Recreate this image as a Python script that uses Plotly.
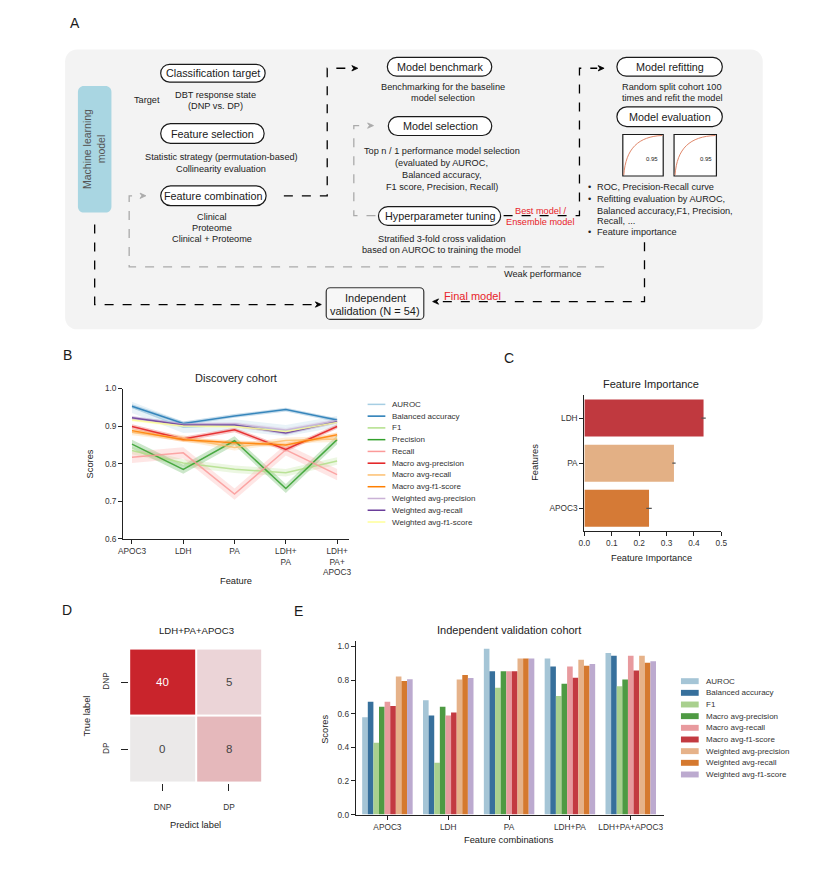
import plotly.graph_objects as go

W, H = 818, 873
FONT = "Liberation Sans, Arial, sans-serif"

# ---------------- Panel B data (Discovery cohort) ----------------
b_features = ["APOC3", "LDH", "PA", "LDH+PA", "LDH+PA+APOC3"]
b_ticktext = ["APOC3", "LDH", "PA", "LDH+<br>PA", "LDH+<br>PA+<br>APOC3"]
b_metric_names = ["AUROC", "Balanced accuracy", "F1", "Precision", "Recall",
                  "Macro avg-precision", "Macro avg-recall", "Macro avg-f1-score",
                  "Weighted avg-precision", "Weighted avg-recall", "Weighted avg-f1-score"]
b_colors = ["#a6cee3", "#1f78b4", "#b2df8a", "#33a02c", "#fb9a99", "#e31a1c",
            "#fdbf6f", "#ff7f00", "#cab2d6", "#6a3d9a", "#ffff99"]
b_auroc = [0.950, 0.897, 0.903, 0.888, 0.912]
b_balanced_accuracy = [0.953, 0.907, 0.927, 0.944, 0.916]
b_f1 = [0.835, 0.802, 0.785, 0.776, 0.807]
b_precision = [0.852, 0.785, 0.861, 0.734, 0.864]
b_recall = [0.817, 0.829, 0.719, 0.837, 0.771]
b_macro_precision = [0.899, 0.866, 0.890, 0.838, 0.899]
b_macro_recall = [0.884, 0.868, 0.843, 0.862, 0.866]
b_macro_f1 = [0.888, 0.864, 0.856, 0.850, 0.877]
b_weighted_precision = [0.920, 0.905, 0.906, 0.890, 0.915]
b_weighted_recall = [0.922, 0.903, 0.903, 0.882, 0.912]
b_weighted_f1 = [0.916, 0.900, 0.899, 0.886, 0.910]
b_band_halfwidth = [0.015, 0.005, 0.010, 0.012, 0.015, 0.006, 0.008, 0.006, 0.005, 0.005, 0.004]
b_series = [b_auroc, b_balanced_accuracy, b_f1, b_precision, b_recall, b_macro_precision,
            b_macro_recall, b_macro_f1, b_weighted_precision, b_weighted_recall, b_weighted_f1]

# ---------------- Panel C data (Feature importance) ----------------
c_features = ["LDH", "PA", "APOC3"]
c_importance = [0.435, 0.327, 0.236]
c_error = [0.008, 0.006, 0.010]
c_colors = ["#c0393f", "#e3b085", "#d57a36"]

# ---------------- Panel D data (Confusion matrix) ----------------
d_labels = ["DNP", "DP"]
d_matrix = [[40, 5], [0, 8]]

# ---------------- Panel E data (Independent validation) ----------------
e_features = ["APOC3", "LDH", "PA", "LDH+PA", "LDH+PA+APOC3"]
e_metric_names = ["AUROC", "Balanced accuracy", "F1", "Macro avg-precision", "Macro avg-recall",
                  "Macro avg-f1-score", "Weighted avg-precision", "Weighted avg-recall",
                  "Weighted avg-f1-score"]
e_colors = ["#a5c5d6", "#37709c", "#a9d08e", "#4e9a43", "#e89a9e", "#c33a41",
            "#e6b289", "#d5792f", "#bcaacf"]
e_auroc = [0.579, 0.681, 0.986, 0.928, 0.961]
e_balanced_accuracy = [0.671, 0.589, 0.853, 0.881, 0.945]
e_f1 = [0.427, 0.309, 0.755, 0.706, 0.763]
e_macro_precision = [0.642, 0.642, 0.853, 0.779, 0.804]
e_macro_recall = [0.671, 0.589, 0.853, 0.881, 0.945]
e_macro_f1 = [0.646, 0.607, 0.853, 0.814, 0.857]
e_weighted_precision = [0.822, 0.804, 0.928, 0.922, 0.945]
e_weighted_recall = [0.795, 0.830, 0.928, 0.886, 0.904]
e_weighted_f1 = [0.806, 0.812, 0.928, 0.896, 0.912]
e_series = [e_auroc, e_balanced_accuracy, e_f1, e_macro_precision, e_macro_recall,
            e_macro_f1, e_weighted_precision, e_weighted_recall, e_weighted_f1]


# ---------------- helpers ----------------
def fx(x):
    return x / W


def fy(y):
    return 1 - y / H


def P(x, y):
    return f"{fx(x):.5f},{fy(y):.5f}"


def rgba(hexc, a):
    h = hexc.lstrip("#")
    return f"rgba({int(h[0:2],16)},{int(h[2:4],16)},{int(h[4:6],16)},{a})"


shapes = []
annotations = []


def add_path(path, line_color="black", width=1.2, dash="solid", fill="rgba(0,0,0,0)"):
    shapes.append(dict(type="path", xref="paper", yref="paper", path=path,
                       line=dict(color=line_color, width=width, dash=dash),
                       fillcolor=fill, layer="above"))


def pill(x0, y0, x1, y1):
    r = (y1 - y0) / 2
    k = 0.5523 * r
    ym = (y0 + y1) / 2
    path = (f"M {P(x0+r,y0)} L {P(x1-r,y0)} C {P(x1-r+k,y0)} {P(x1,ym-k)} {P(x1,ym)} "
            f"C {P(x1,ym+k)} {P(x1-r+k,y1)} {P(x1-r,y1)} L {P(x0+r,y1)} "
            f"C {P(x0+r-k,y1)} {P(x0,ym+k)} {P(x0,ym)} C {P(x0,ym-k)} {P(x0+r-k,y0)} {P(x0+r,y0)} Z")
    add_path(path, "#1a1a1a", 1.2, fill="white")


def rrect(x0, y0, x1, y1, r, fill, line_color="rgba(0,0,0,0)", width=0):
    k = 0.5523 * r
    path = (f"M {P(x0+r,y0)} L {P(x1-r,y0)} C {P(x1-r+k,y0)} {P(x1,y0+r-k)} {P(x1,y0+r)} "
            f"L {P(x1,y1-r)} C {P(x1,y1-r+k)} {P(x1-r+k,y1)} {P(x1-r,y1)} "
            f"L {P(x0+r,y1)} C {P(x0+r-k,y1)} {P(x0,y1-r+k)} {P(x0,y1-r)} "
            f"L {P(x0,y0+r)} C {P(x0,y0+r-k)} {P(x0+r-k,y0)} {P(x0+r,y0)} Z")
    shapes.append(dict(type="path", xref="paper", yref="paper", path=path,
                       line=dict(color=line_color, width=width), fillcolor=fill, layer="below"))


def polyline(pts, color="black", dash="dash", width=1.3):
    path = "M " + " L ".join(P(x, y) for x, y in pts)
    add_path(path, color, width, dash=dash)


def head(tx, ty, direction, color="black", s=6):
    if direction == "right":
        pts = [(tx, ty), (tx - s, ty - s * 0.45), (tx - s * 0.7, ty), (tx - s, ty + s * 0.45)]
    else:
        pts = [(tx, ty), (tx + s, ty - s * 0.45), (tx + s * 0.7, ty), (tx + s, ty + s * 0.45)]
    path = "M " + " L ".join(P(x, y) for x, y in pts) + " Z"
    add_path(path, color, 0.8, fill=color)


def text(x, y, s, size=8, color="#222222", xanchor="center", angle=0, family=FONT):
    annotations.append(dict(x=fx(x), y=fy(y), xref="paper", yref="paper", text=s,
                            showarrow=False, xanchor=xanchor, yanchor="middle",
                            textangle=angle, font=dict(size=size, color=color, family=family)))


BODY = 9.2
PILL = 10.8

# ---------------- Panel A: workflow ----------------
rrect(60, 45, 768, 328, 12, "#f3f3f3")
rrect(73, 82, 107, 210, 6, "#a9d6e2")
text(90, 146, "Machine learning<br>model", 10.5, "#555555", angle=-90)

pills = [
    (157, 60, 263, 78, "Classification target"),
    (157, 120, 262, 140, "Feature selection"),
    (157, 183, 264, 203, "Feature combination"),
    (387, 53, 493, 72, "Model benchmark"),
    (388, 113, 493, 132, "Model selection"),
    (378, 204, 502, 223, "Hyperparameter tuning"),
    (620, 53, 727, 72, "Model refitting"),
    (620, 103, 727, 123, "Model evaluation"),
]
for x0, y0, x1, y1, label in pills:
    pill(x0, y0, x1, y1)
    text((x0 + x1) / 2, (y0 + y1) / 2, label, PILL, "#1a1a1a")

rrect(325, 286, 424, 318, 4, "#f7f7f7", "#333333", 1.2)
text(375, 296, "Independent", 11, "#1a1a1a")
text(375, 310, "validation (N = 54)", 11, "#1a1a1a")

text(143, 96, "Target", BODY)
text(213, 91, "DBT response state", BODY)
text(213, 102, "(DNP vs. DP)", BODY)
text(219, 154, "Statistic strategy (permutation-based)", BODY)
text(218, 166, "Collinearity evaluation", BODY)
text(209, 214, "Clinical", BODY)
text(209, 226, "Proteome", BODY)
text(209, 237, "Clinical + Proteome", BODY)
text(443, 83, "Benchmarking for the baseline", BODY)
text(443, 94, "model selection", BODY)
text(442, 148, "Top n / 1 performance model selection", BODY)
text(442, 160, "(evaluated by AUROC,", BODY)
text(442, 172, "Balanced accuracy,", BODY)
text(442, 184, "F1 score, Precision, Recall)", BODY)
text(442, 237, "Stratified 3-fold cross validation", BODY)
text(442, 248, "based on AUROC to training the model", BODY)
text(543, 208, "Best model /", BODY, "#e8232a")
text(542, 220, "Ensemble model", BODY, "#e8232a")
text(676, 83, "Random split cohort 100", BODY)
text(676, 94, "times and refit the model", BODY)
for yy, s, bullet in [(184, "ROC, Precision-Recall curve", True),
                      (196, "Refitting evaluation by AUROC,", True),
                      (208, "Balanced accuracy,F1, Precision,", False),
                      (219, "Recall, ...", False),
                      (230, "Feature importance", True)]:
    if bullet:
        text(589, yy, "•", BODY, xanchor="left")
    text(598, yy, s, BODY, xanchor="left")
text(544, 272, "Weak performance", BODY)
text(473, 294, "Final model", 11, "#e8232a")

# dashed connectors
polyline([(90, 222), (90, 303), (314, 303)])
head(320, 303, "right")
polyline([(282, 193), (326, 193), (326, 64), (350, 64)])
head(357, 64, "right")
polyline([(375, 213), (353, 213), (353, 122), (366, 122)], color="#aaaaaa")
head(373, 122, "right", color="#aaaaaa")
polyline([(505, 213), (582, 213), (582, 64), (600, 64)])
head(607, 64, "right")
polyline([(648, 240), (648, 300), (439, 300)])
head(433, 300, "left")
polyline([(607, 265), (125, 265), (125, 193), (135, 193)], color="#aaaaaa")
head(142, 193, "right", color="#aaaaaa")

# mini ROC boxes
for x0, x1 in [(626, 667), (678, 721)]:
    y0, y1 = 131, 173
    shapes.append(dict(type="rect", xref="paper", yref="paper", x0=fx(x0), x1=fx(x1),
                       y0=fy(y1), y1=fy(y0), line=dict(color="#1a1a1a", width=1.2),
                       fillcolor="white", layer="above"))
    add_path(f"M {P(x0+1,y1-1)} C {P(x0+3,y0+14)} {P(x0+16,y0+2)} {P(x1-1,y0+1)}",
             "#e0876a", 1.0)
    text(x1 - 11, 156, "0.95", 6)

# panel letters
for lx, ly, s in [(70, 18, "A"), (62, 354, "B"), (510, 357, "C"), (62, 612, "D"), (297, 613, "E")]:
    text(lx, ly, s, 14, "#1a1a1a")

# ---------------- traces ----------------
fig = go.Figure()

# Panel B
for name, color, vals, hw in zip(b_metric_names, b_colors, b_series, b_band_halfwidth):
    fig.add_trace(go.Scatter(
        x=b_features + b_features[::-1],
        y=[v + hw for v in vals] + [v - hw for v in vals][::-1],
        fill="toself", fillcolor=rgba(color, 0.25), line=dict(width=0),
        mode="lines", hoverinfo="skip", showlegend=False, xaxis="x", yaxis="y"))
for name, color, vals in zip(b_metric_names, b_colors, b_series):
    fig.add_trace(go.Scatter(x=b_features, y=vals, mode="lines", name=name,
                             line=dict(color=color, width=1.5), opacity=0.85,
                             showlegend=False, xaxis="x", yaxis="y"))

# manual legend for B
for i, (name, color) in enumerate(zip(b_metric_names, b_colors)):
    yy = 404 + i * 11.9
    shapes.append(dict(type="line", xref="paper", yref="paper", x0=fx(367), x1=fx(385),
                       y0=fy(yy), y1=fy(yy), line=dict(color=color, width=1.5)))
    text(390, yy, name, 8, "#333333", xanchor="left")

# Panel C
fig.add_trace(go.Bar(y=c_features, x=c_importance, orientation="h", width=0.82,
                     marker=dict(color=c_colors, line=dict(width=0)),
                     error_x=dict(type="data", array=c_error, color="#555555", thickness=1.2, width=0),
                     showlegend=False, xaxis="x2", yaxis="y2"))

# Panel D
fig.add_trace(go.Heatmap(z=d_matrix, x=d_labels, y=d_labels, zmin=0, zmax=40,
                         colorscale=[[0, "#ebe9e9"], [0.125, "#ebd4d7"], [0.2, "#e5b8bb"], [1, "#c9242c"]],
                         showscale=False, xgap=2, ygap=2, xaxis="x3", yaxis="y3"))
for r, row in enumerate(d_matrix):
    for c, val in enumerate(row):
        annotations.append(dict(x=d_labels[c], y=d_labels[r], xref="x3", yref="y3",
                                text=str(val), showarrow=False,
                                font=dict(size=11.5, family=FONT,
                                          color="white" if val > 20 else "#444444")))

# Panel E
for name, color, vals in zip(e_metric_names, e_colors, e_series):
    fig.add_trace(go.Bar(x=e_features, y=vals, name=name, marker=dict(color=color, line=dict(width=0)),
                         showlegend=False, xaxis="x4", yaxis="y4"))
for i, (name, color) in enumerate(zip(e_metric_names, e_colors)):
    yy = 684 + i * 11.8
    shapes.append(dict(type="rect", xref="paper", yref="paper", x0=fx(685), x1=fx(703),
                       y0=fy(yy + 3), y1=fy(yy - 3), line=dict(width=0), fillcolor=color))
    text(708, yy, name, 8, "#333333", xanchor="left")

# axis titles / subplot titles
TITLE = 11
LABEL = 9.3
text(233, 377, "Discovery cohort", TITLE)
text(85, 464, "Scores", LABEL, angle=-90)
text(233, 583, "Feature", LABEL)
text(655, 383, "Feature Importance", TITLE)
text(655, 559, "Feature Importance", LABEL)
text(537, 463, "Features", LABEL, angle=-90)
text(193, 633, "LDH+PA+APOC3", 9.6)
text(192, 830, "Predict label", LABEL)
text(82, 719, "True label", LABEL, angle=-90)
text(510, 632, "Independent validation cohort", TITLE)
text(510, 845, "Feature combinations", LABEL)
text(323, 733, "Scores", LABEL, angle=-90)

TICK = 8.3
axis_common = dict(showline=True, linecolor="#222222", linewidth=1.2, ticks="outside",
                   ticklen=4, tickwidth=1.2, tickcolor="#222222", showgrid=False, zeroline=False,
                   tickfont=dict(size=TICK, color="#333333", family=FONT))

fig.update_layout(
    width=W, height=H, margin=dict(l=0, r=0, t=0, b=0),
    paper_bgcolor="white", plot_bgcolor="white",
    font=dict(family=FONT, color="#222222"),
    barmode="group", bargap=0.17, bargroupgap=0,
    showlegend=False,
    xaxis=dict(domain=[fx(119), fx(348)], anchor="y", type="category",
               categoryorder="array", categoryarray=b_features,
               tickvals=b_features, ticktext=b_ticktext, range=[-0.17, 4.23], **axis_common),
    yaxis=dict(domain=[fy(540), fy(388)], anchor="x", range=[0.6, 1.0], dtick=0.1,
               tickformat=".1f", **axis_common),
    xaxis2=dict(domain=[fx(587), fx(726)], anchor="y2", range=[0, 0.5], dtick=0.1,
                tickformat=".1f", **axis_common),
    yaxis2=dict(domain=[fy(532), fy(395)], anchor="x2", type="category",
                categoryorder="array", categoryarray=c_features, range=[2.5, -0.5], **axis_common),
    xaxis3=dict(domain=[fx(125), fx(260)], anchor="y3", showline=False, ticks="outside",
                ticklen=7, tickwidth=1.2, tickcolor="#222222", showgrid=False, zeroline=False,
                ticklabelstandoff=9, tickfont=dict(size=TICK, color="#333333", family=FONT)),
    yaxis3=dict(domain=[fy(787), fy(651)], anchor="x3", autorange="reversed", showline=False,
                ticks="outside", ticklen=7, tickwidth=1.2, tickcolor="#222222", showgrid=False,
                zeroline=False, tickangle=-90, ticklabelstandoff=9,
                tickfont=dict(size=TICK, color="#333333", family=FONT)),
    xaxis4=dict(domain=[fx(355), fx(668)], anchor="y4", type="category",
                categoryorder="array", categoryarray=e_features, range=[-0.52, 4.55], **axis_common),
    yaxis4=dict(domain=[fy(819), fy(643)], anchor="x4", range=[0, 1.035], dtick=0.2,
                tickformat=".1f", **axis_common),
    shapes=shapes, annotations=annotations,
)

fig.write_html("out.html", config={"displayModeBar": False},
               post_script="document.body.style.margin='0px';")
